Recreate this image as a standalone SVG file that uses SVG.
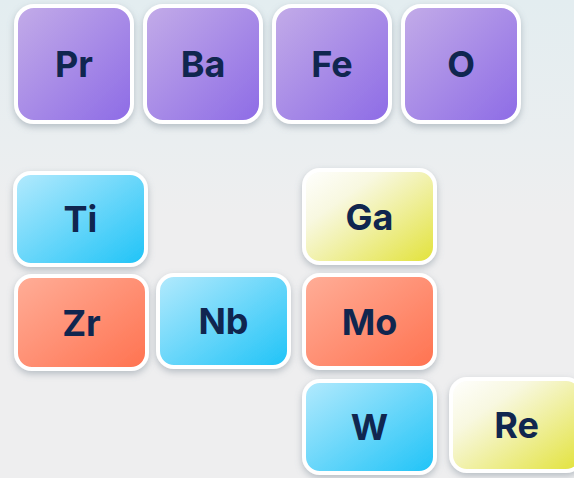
<svg xmlns="http://www.w3.org/2000/svg" width="574" height="478" viewBox="0 0 574 478">
<defs>
<linearGradient id="bg" x1="0" y1="0" x2="0" y2="1">
<stop offset="0" stop-color="#e3edf0"/>
<stop offset="0.3" stop-color="#eaeef0"/>
<stop offset="0.45" stop-color="#eeeeef"/>
<stop offset="1" stop-color="#eeeeef"/>
</linearGradient>
<linearGradient id="gP" x1="0" y1="0" x2="1" y2="1">
<stop offset="0" stop-color="#c3ace8"/>
<stop offset="1" stop-color="#8d6be6"/>
</linearGradient>
<linearGradient id="gB" x1="0" y1="0" x2="1" y2="1">
<stop offset="0" stop-color="#b4eafd"/>
<stop offset="1" stop-color="#1ec3f7"/>
</linearGradient>
<linearGradient id="gR" x1="0" y1="0" x2="1" y2="1">
<stop offset="0" stop-color="#ffae98"/>
<stop offset="1" stop-color="#ff7250"/>
</linearGradient>
<linearGradient id="gY" x1="0" y1="0" x2="1" y2="1">
<stop offset="0" stop-color="#ffffff"/>
<stop offset="0.3" stop-color="#f8f8e0"/>
<stop offset="1" stop-color="#e2e238"/>
</linearGradient>
<filter id="sh" x="-20%" y="-20%" width="140%" height="150%">
<feDropShadow dx="0" dy="3" stdDeviation="3.5" flood-color="#75828f" flood-opacity="0.45"/>
</filter>
</defs>
<style>
.box{stroke:#ffffff;stroke-width:4;filter:url(#sh)}
.p{fill:url(#gP)}
.b{fill:url(#gB)}
.r{fill:url(#gR)}
.y{fill:url(#gY)}
.t{font-family:Inter,"Liberation Sans",sans-serif;font-weight:700;font-size:36px;fill:#10264f;text-anchor:middle}
</style>
<rect width="574" height="478" fill="url(#bg)"/>
<g id="connectors"/>
<g id="Pr"><rect class="box p" x="16" y="6" width="116" height="116" rx="18"/><text class="t" x="74" y="77">Pr</text></g>
<g id="Ba"><rect class="box p" x="145" y="6" width="116" height="116" rx="18"/><text class="t" x="203" y="77">Ba</text></g>
<g id="Fe"><rect class="box p" x="274" y="6" width="116" height="116" rx="18"/><text class="t" x="332" y="77">Fe</text></g>
<g id="O"><rect class="box p" x="403" y="6" width="116" height="116" rx="18"/><text class="t" x="461" y="77">O</text></g>
<g id="Ti"><rect class="box b" x="15" y="173" width="131" height="92" rx="16"/><text class="t" x="80.5" y="232">Ti</text></g>
<g id="Zr"><rect class="box r" x="16" y="276" width="131" height="93" rx="16"/><text class="t" x="81.5" y="336">Zr</text></g>
<g id="Nb"><rect class="box b" x="158" y="275" width="131" height="92" rx="16"/><text class="t" x="223.5" y="334">Nb</text></g>
<g id="Ga"><rect class="box y" x="304" y="170" width="131" height="93" rx="16"/><text class="t" x="369.5" y="230">Ga</text></g>
<g id="Mo"><rect class="box r" x="304" y="275" width="131" height="93" rx="16"/><text class="t" x="369.5" y="335">Mo</text></g>
<g id="W"><rect class="box b" x="304" y="381" width="131" height="92" rx="16"/><text class="t" x="369.5" y="440">W</text></g>
<g id="Re"><rect class="box y" x="451" y="379" width="131" height="92" rx="16"/><text class="t" x="516.5" y="438">Re</text></g>
</svg>
